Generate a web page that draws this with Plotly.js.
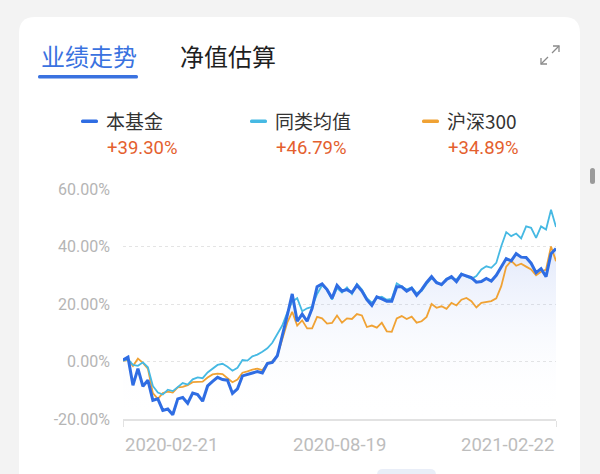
<!DOCTYPE html>
<html><head><meta charset="utf-8">
<script src="https://cdn.plot.ly/plotly-3.0.1.min.js"></script>
<style>html,body{margin:0;padding:0;background:#f3f3f3;} #chart{width:600px;height:474px;}</style>
</head><body><div id="chart"></div>
<script>
// ---- data ----
const tabs = ['业绩走势', '净值估算'];
const seriesNames = ['本基金', '同类均值', '沪深300'];
const seriesReturns = ['+39.30%', '+46.79%', '+34.89%'];
const xTickLabels = ['2020-02-21', '2020-08-19', '2021-02-22'];
const yTickValues = [-20, 0, 20, 40, 60];

const fund = [0.5, 1.5, -8.3, -2.5, -8.6, -6.5, -13.5, -13.0, -17.0, -16.5,
  -18.5, -13.0, -12.5, -14.5, -11.0, -11.5, -13.8, -8.5, -6.9, -5.5,
  -6.3, -6.5, -11.1, -9.5, -5.0, -4.4, -4.0, -3.5, -4.0, -0.7,
  -0.3, 2.0, 8.5, 16.0, 23.5, 14.0, 16.5, 14.0, 18.5, 26.0,
  27.0, 25.0, 22.0, 26.5, 24.5, 25.0, 24.0, 26.5, 24.5, 21.5,
  19.5, 22.5, 21.8, 21.0, 21.0, 26.0, 26.0, 24.5, 25.5, 23.0,
  25.0, 27.5, 29.5, 27.4, 26.8, 28.5, 29.5, 27.8, 30.3, 29.8,
  29.2, 27.6, 27.8, 28.9, 28.0, 30.0, 32.7, 35.8, 35.0, 37.5,
  36.3, 36.2, 34.2, 30.9, 32.3, 29.5, 37.5, 39.3];

const peer = [0.3, 0.8, -1.2, -1.5, -0.3, -2.0, -8.5, -10.8, -11.5, -9.8,
  -10.3, -9.0, -7.5, -8.0, -6.2, -5.5, -5.8, -3.8, -2.5, -1.2,
  -0.8, -1.8, -3.2, -2.2, 0.5, 0.3, 1.8, 2.4, 3.4, 4.6,
  6.5, 9.4, 12.5, 17.0, 20.8, 22.0, 17.5, 18.5, 19.0, 23.5,
  26.5, 25.0, 21.5, 25.5, 24.0, 25.8, 23.5, 27.0, 25.0, 22.0,
  20.5, 22.0, 22.5, 21.5, 21.8, 27.2, 26.0, 25.0, 25.8, 23.8,
  24.5, 27.0, 29.0, 27.8, 26.5, 28.8, 29.0, 28.5, 30.6, 29.5,
  28.8, 29.7, 32.0, 33.1, 32.6, 34.3, 40.1, 45.0, 43.6, 44.5,
  42.8, 47.0, 46.5, 43.0, 47.0, 45.9, 52.8, 46.8];

const hs300 = [0.3, 0.5, -1.6, 1.0, -0.5, -2.5, -11.0, -13.0, -11.0, -10.5,
  -10.8, -9.0, -8.8, -8.2, -7.2, -7.2, -7.0, -5.6, -4.5, -4.2,
  -4.4, -5.8, -7.2, -6.3, -3.9, -3.4, -2.8, -2.5, -3.0, -0.8,
  0.1, 2.0, 7.5, 13.5, 17.3, 12.5, 14.3, 11.5, 11.5, 15.5,
  15.0, 13.2, 13.4, 16.0, 13.5, 15.0, 14.8, 16.5, 16.0, 12.0,
  12.5, 11.8, 13.5, 10.5, 10.3, 15.0, 15.8, 14.8, 15.6, 13.5,
  14.0, 15.5, 20.0, 18.7, 19.2, 18.3, 20.4, 19.5, 21.5, 22.1,
  21.0, 18.8, 20.4, 20.8, 21.0, 22.0, 26.2, 33.0, 35.0, 33.3,
  34.0, 33.0, 32.0, 30.0, 31.2, 32.0, 40.0, 34.9];

// ---- styling ----
const colors = ['#2f6de3', '#46b9e3', '#f0a234'];
const W = 600, H = 474;
const M = {l: 123, r: 44, t: 189, b: 55};
const PW = W - M.l - M.r, PH = H - M.t - M.b;
const X = px => (px - M.l) / PW;
const Y = py => (H - M.b - py) / PH;
const yMin = yTickValues[0], yMax = yTickValues[yTickValues.length - 1];

const idx = fund.map((_, i) => i);
const n = idx.length;

function roundRect(x0, y0, x1, y1, r) {
  const rx = r / PW, ry = r / PH;
  const a = X(x0), b = X(x1), c = Y(y0), d = Y(y1);
  return `M ${a + rx} ${c} L ${b - rx} ${c} Q ${b} ${c} ${b} ${c - ry} L ${b} ${d + ry} Q ${b} ${d} ${b - rx} ${d} L ${a + rx} ${d} Q ${a} ${d} ${a} ${d + ry} L ${a} ${c - ry} Q ${a} ${c} ${a + rx} ${c} Z`;
}

const traces = [
  {x: idx, y: idx.map(() => yMin), type: 'scatter', mode: 'lines', line: {width: 0}, hoverinfo: 'skip', showlegend: false},
  {x: idx, y: fund, type: 'scatter', mode: 'lines', line: {width: 0}, fill: 'tonexty',
   fillgradient: {type: 'vertical', colorscale: [[0, 'rgba(255,255,255,0)'], [1, 'rgba(90,130,230,0.17)']]},
   hoverinfo: 'skip', showlegend: false},
  {x: idx, y: hs300, name: seriesNames[2], type: 'scatter', mode: 'lines', line: {color: colors[2], width: 1.8}},
  {x: idx, y: peer, name: seriesNames[1], type: 'scatter', mode: 'lines', line: {color: colors[1], width: 1.8}},
  {x: idx, y: fund, name: seriesNames[0], type: 'scatter', mode: 'lines', line: {color: colors[0], width: 3}}
];

const shapes = [
  {type: 'path', xref: 'paper', yref: 'paper', layer: 'below', path: roundRect(19, 17, 580, 520, 16),
   fillcolor: '#ffffff', line: {width: 0}},
  {type: 'path', xref: 'paper', yref: 'paper', path: roundRect(38, 75, 138, 78.5, 1.5), fillcolor: '#3a72e0', line: {width: 0}},
  {type: 'line', xref: 'paper', yref: 'paper', x0: X(541), y0: Y(64), x1: X(548), y1: Y(57), line: {color: '#8a8a8a', width: 1.3}},
  {type: 'path', xref: 'paper', yref: 'paper', path: `M ${X(541)} ${Y(58)} L ${X(541)} ${Y(64)} L ${X(547)} ${Y(64)}`, line: {color: '#8a8a8a', width: 1.3}},
  {type: 'line', xref: 'paper', yref: 'paper', x0: X(552), y0: Y(53), x1: X(559), y1: Y(46), line: {color: '#8a8a8a', width: 1.3}},
  {type: 'path', xref: 'paper', yref: 'paper', path: `M ${X(553)} ${Y(46)} L ${X(559)} ${Y(46)} L ${X(559)} ${Y(52)}`, line: {color: '#8a8a8a', width: 1.3}},
  {type: 'path', xref: 'paper', yref: 'paper', path: roundRect(590, 168, 595, 184, 2.5), fillcolor: '#9a9a9a', line: {width: 0}},
  {type: 'path', xref: 'paper', yref: 'paper', path: roundRect(377, 469, 436, 485, 6), fillcolor: '#e9eef8', line: {width: 0}}
];

const legendX = [106, 275, 447];
legendX.forEach((lx, i) => {
  shapes.push({type: 'path', xref: 'paper', yref: 'paper', path: roundRect(lx - 25, 119.5, lx - 8, 123, 1.5),
    fillcolor: colors[i], line: {width: 0}});
});

const cjk = '"Noto Sans CJK SC", "Noto Sans", sans-serif';
const num = 'Roboto, "Noto Sans", sans-serif';
const annotations = [
  {text: tabs[0], xref: 'paper', yref: 'paper', x: X(39), y: Y(55), xanchor: 'left', yanchor: 'middle', showarrow: false,
   font: {family: cjk, size: 24, color: '#3a72e0'}},
  {text: tabs[1], xref: 'paper', yref: 'paper', x: X(178), y: Y(55), xanchor: 'left', yanchor: 'middle', showarrow: false,
   font: {family: cjk, size: 24, color: '#1f1f1f'}}
];
legendX.forEach((lx, i) => {
  annotations.push({text: seriesNames[i], xref: 'paper', yref: 'paper', x: X(lx - 2), y: Y(121), xanchor: 'left', yanchor: 'middle',
    showarrow: false, font: {family: cjk, size: 19, color: '#333333'}});
  annotations.push({text: seriesReturns[i], xref: 'paper', yref: 'paper', x: X(lx - 1), y: Y(148), xanchor: 'left', yanchor: 'middle',
    showarrow: false, font: {family: num, size: 18.5, color: '#e4602e'}});
});
const xLabelPos = [0, (n - 1) / 2, n - 1];
const xAnch = ['left', 'center', 'right'];
xTickLabels.forEach((t, i) => {
  annotations.push({text: t, xref: 'x', yref: 'paper', x: xLabelPos[i], y: Y(445), xanchor: xAnch[i], yanchor: 'middle',
    showarrow: false, font: {family: num, size: 18.5, color: '#bdbdbd'}});
});

const layout = {
  width: W, height: H,
  margin: {l: M.l, r: M.r, t: M.t, b: M.b, autoexpand: false},
  paper_bgcolor: '#f3f3f3', plot_bgcolor: 'rgba(0,0,0,0)',
  showlegend: false,
  xaxis: {range: [0, n - 1], showgrid: false, zeroline: false, showline: true, linecolor: '#e2e2e2', linewidth: 1.5,
    ticks: 'outside', ticklen: 6, tickcolor: '#e2e2e2', tickvals: [0, n - 1], ticktext: ['', ''], fixedrange: true},
  yaxis: {range: [yMin, yMax], tickmode: 'array', tickvals: yTickValues, ticktext: yTickValues.map(v => v.toFixed(2) + '%'),
    showgrid: true, gridcolor: '#e4e4e4', griddash: '3px,3px', gridwidth: 1, zeroline: false, showline: false, ticks: '',
    ticklabelstandoff: 12, tickfont: {family: num, size: 16, color: '#b5b5b5'}, fixedrange: true},
  shapes: shapes,
  annotations: annotations,
  font: {family: num}
};

Plotly.newPlot('chart', traces, layout, {displayModeBar: false, staticPlot: true});
</script>
</body></html>
